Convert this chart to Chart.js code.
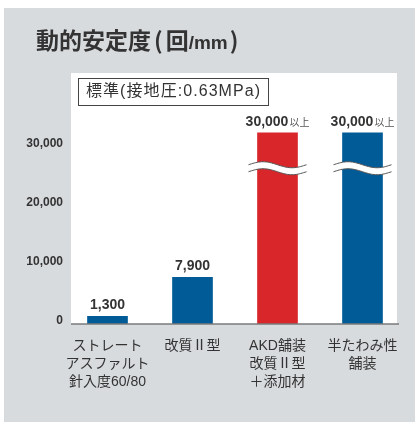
<!DOCTYPE html>
<html>
<head>
<meta charset="utf-8">
<script src="https://cdn.jsdelivr.net/npm/chart.js@4/dist/chart.umd.min.js"></script>
<style>
    html, body { margin: 0; padding: 0; background: #fff; }
    #chart { display: block; }
</style>
</head>
<body>
<canvas id="chart" width="415" height="422"></canvas>
<script>
// Data
const categories = [
    ['ストレート', 'アスファルト', '針入度60/80'],
    ['改質Ⅱ型'],
    ['AKD舗装', '改質Ⅱ型', '＋添加材'],
    ['半たわみ性', '舗装']
];
const values = [1300, 7900, 30000, 30000];
// bars marked "以上" are drawn a bit past 30,000 with a break
const drawnValues = [1300, 7900, 32400, 32400];
const valueSuffix = ['', '', '以上', '以上'];
const brokenBars = [false, false, true, true];
const breakValue = 26400;
const barColors = ['#005b97', '#005b97', '#d9262b', '#005b97'];
const yTicks = [0, 10000, 20000, 30000];

const titleParts = ['動的安定度', '(', '回', '/mm', ')'];
const condition = '標準(接地圧:0.63MPa)';

const latin = '"Liberation Sans", "Noto Sans CJK JP", sans-serif';
const cjk = '"Noto Sans CJK JP", "Liberation Sans", sans-serif';
const textColor = '#333';

// Background panel, title and condition box
const panelPlugin = {
    id: 'panel',
    beforeDraw(chart) {
        const ctx = chart.ctx;
        const area = chart.chartArea;
        ctx.save();
        ctx.fillStyle = '#fff';
        ctx.fillRect(0, 0, chart.width, chart.height);
        ctx.fillStyle = '#d8dbde';
        ctx.fillRect(4, 8, chart.width - 4, chart.height - 8);
        ctx.fillStyle = '#fff';
        ctx.fillRect(71, 73, 326, area.bottom - 73);

        ctx.fillStyle = textColor;
        ctx.textBaseline = 'alphabetic';
        ctx.textAlign = 'left';
        // title: large kanji, narrow parens and a smaller latin unit
        const titleFonts = ['bold 23px ' + cjk, 'bold 23px ' + cjk, 'bold 23px ' + cjk,
                            'bold 19px ' + latin, 'bold 23px ' + cjk];
        const gaps = [3, 3, 0, 2, 0];
        let x = 36;
        titleParts.forEach((part, i) => {
            ctx.font = titleFonts[i];
            ctx.fillText(part, x, 49);
            x += ctx.measureText(part).width + gaps[i];
        });

        ctx.strokeStyle = '#444';
        ctx.lineWidth = 1;
        ctx.strokeRect(78.5, 78.5, 190, 27);
        ctx.textBaseline = 'middle';
        ctx.font = '16px ' + latin;
        const w = ctx.measureText(condition).width;
        const n = [...condition].length;
        ctx.letterSpacing = Math.max(0, (174 - w) / (n - 1)) + 'px';
        ctx.fillText(condition, 86, 92);
        ctx.letterSpacing = '0px';
        ctx.restore();
    },
    afterDatasetsDraw(chart) {
        const ctx = chart.ctx;
        const area = chart.chartArea;
        const yScale = chart.scales.y;
        const meta = chart.getDatasetMeta(0);
        ctx.save();

        // wavy break on the capped bars
        const yc = yScale.getPixelForValue(breakValue);
        meta.data.forEach((bar, i) => {
            if (!brokenBars[i]) return;
            const left = bar.x - bar.width / 2 - 9;
            const right = bar.x + bar.width / 2 + 9;
            const top = t => yc - 3.5 - 3 * Math.sin(2 * Math.PI * t);
            const steps = 40;
            ctx.beginPath();
            for (let s = 0; s <= steps; s++) {
                const t = s / steps;
                const x = left + (right - left) * t;
                if (s === 0) ctx.moveTo(x, top(t)); else ctx.lineTo(x, top(t));
            }
            for (let s = steps; s >= 0; s--) {
                const t = s / steps;
                ctx.lineTo(left + (right - left) * t, top(t) + 7);
            }
            ctx.closePath();
            ctx.fillStyle = '#fff';
            ctx.fill();
            ctx.strokeStyle = '#555';
            ctx.lineWidth = 1;
            [0, 7].forEach(off => {
                ctx.beginPath();
                for (let s = 0; s <= steps; s++) {
                    const t = s / steps;
                    const x = left + (right - left) * t;
                    if (s === 0) ctx.moveTo(x, top(t) + off); else ctx.lineTo(x, top(t) + off);
                }
                ctx.stroke();
            });
        });

        // baseline
        ctx.strokeStyle = '#7a7a7a';
        ctx.lineWidth = 1.5;
        ctx.beginPath();
        ctx.moveTo(71, area.bottom);
        ctx.lineTo(399, area.bottom);
        ctx.stroke();

        // value labels
        ctx.textBaseline = 'alphabetic';
        ctx.textAlign = 'left';
        meta.data.forEach((bar, i) => {
            const num = values[i].toLocaleString('en-US');
            ctx.font = 'bold 14px ' + latin;
            const w1 = ctx.measureText(num).width;
            ctx.font = '10px ' + cjk;
            const w2 = valueSuffix[i] ? ctx.measureText(valueSuffix[i]).width + 1 : 0;
            const x0 = bar.x - (w1 + w2) / 2;
            const yb = bar.y - 7;
            ctx.fillStyle = textColor;
            ctx.font = 'bold 14px ' + latin;
            ctx.fillText(num, x0, yb);
            if (valueSuffix[i]) {
                ctx.fillStyle = '#555';
                ctx.font = '10px ' + cjk;
                ctx.fillText(valueSuffix[i], x0 + w1 + 1, yb);
            }
        });
        ctx.restore();
    }
};

new Chart(document.getElementById('chart'), {
    type: 'bar',
    data: {
        labels: categories,
        datasets: [{
            data: drawnValues,
            backgroundColor: barColors,
            borderWidth: 0,
            barThickness: 40
        }]
    },
    options: {
        responsive: false,
        animation: false,
        layout: { padding: { top: 88, right: 10, left: 0, bottom: 0 } },
        plugins: {
            legend: { display: false },
            tooltip: { enabled: false }
        },
        scales: {
            x: {
                grid: { display: false, drawTicks: false },
                border: { display: false },
                ticks: {
                    color: textColor,
                    font: { family: latin, size: 14, lineHeight: '18px' },
                    padding: 13,
                    maxRotation: 0,
                    autoSkip: false
                },
                afterFit(scale) { scale.height = 98; }
            },
            y: {
                min: 0,
                max: 40000,
                afterBuildTicks(scale) { scale.ticks = yTicks.map(v => ({ value: v })); },
                grid: { display: false, drawTicks: false },
                border: { display: false },
                ticks: {
                    color: textColor,
                    font: { family: latin, size: 12, weight: 'bold' },
                    padding: 2,
                    labelOffset: -3,
                    callback: v => v.toLocaleString('en-US')
                },
                afterFit(scale) { scale.width = 65; }
            }
        }
    },
    plugins: [panelPlugin]
});
</script>
</body>
</html>
